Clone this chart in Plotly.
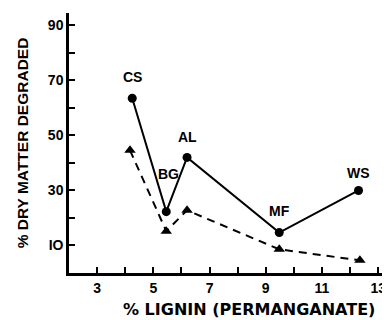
import plotly.graph_objects as go

labels = ["CS", "BG", "AL", "MF", "WS"]
lignin_solid = [4.25, 5.46, 6.2, 9.48, 12.3]
dm_solid = [63.5, 22.3, 42.0, 14.7, 30.0]
lignin_dash = [4.17, 5.46, 6.2, 9.48, 12.35]
dm_dash = [44.6, 15.2, 22.8, 8.6, 4.6]
x_ticks = [3, 4, 5, 6, 7, 8, 9, 10, 11, 12, 13]
x_tick_text = ["3", "", "5", "", "7", "", "9", "", "11", "", "13"]
y_ticks = [10, 20, 30, 40, 50, 60, 70, 80, 90]
y_tick_text = ["IO", "", "30", "", "50", "", "70", "", "90"]

FONT = "Liberation Sans"

fig = go.Figure()
fig.add_trace(go.Scatter(
    x=lignin_dash, y=dm_dash, mode="lines+markers",
    line=dict(color="black", width=2, dash="8px,6px"),
    marker=dict(symbol="triangle-up", size=10, color="black"),
    cliponaxis=False, showlegend=False))
fig.add_trace(go.Scatter(
    x=lignin_solid, y=dm_solid, mode="lines+markers",
    line=dict(color="black", width=2),
    marker=dict(symbol="circle", size=9, color="black"),
    cliponaxis=False, showlegend=False))

label_shift = [(0, 21), (2, 38), (0, 20), (0, 22), (0, 17)]
for lab, x, y, (dx, dy) in zip(labels, lignin_solid, dm_solid, label_shift):
    fig.add_annotation(x=x, y=y, text="<b>%s</b>" % lab, showarrow=False,
                       xshift=dx, yshift=dy,
                       font=dict(family=FONT, size=14, color="black"))

# x-axis title (slightly right of the plot centre, as in the original)
fig.add_annotation(xref="paper", yref="paper", x=0.56, y=0, yshift=-36,
                   yanchor="middle", showarrow=False,
                   text="<b>% LIGNIN (PERMANGANATE)</b>",
                   font=dict(family="DejaVu Sans", size=16, color="black"))

fig.update_xaxes(
    range=[2.0, 13.42], tickvals=x_ticks,
    ticktext=["<b>%s</b>" % t if t else "" for t in x_tick_text],
    ticks="inside", ticklen=6, tickwidth=2, tickcolor="black",
    showline=True, linewidth=2.5, linecolor="black", showgrid=False, zeroline=False,
    tickfont=dict(family=FONT, size=14, color="black"))
fig.update_yaxes(
    range=[0, 94.5], tickvals=y_ticks,
    ticktext=["<b>%s</b>" % t if t else "" for t in y_tick_text],
    ticks="inside", ticklen=6, tickwidth=2, tickcolor="black",
    showline=True, linewidth=2.5, linecolor="black", showgrid=False, zeroline=False,
    tickfont=dict(family=FONT, size=14, color="black"),
    title=dict(text="<b>% DRY MATTER DEGRADED</b>", standoff=16,
               font=dict(family=FONT, size=15.5, color="black")))

fig.update_layout(
    width=382, height=312,
    margin=dict(l=61, r=0, t=5, b=47, autoexpand=False),
    paper_bgcolor="white", plot_bgcolor="white",
    showlegend=False)

fig.write_html("out.html")
